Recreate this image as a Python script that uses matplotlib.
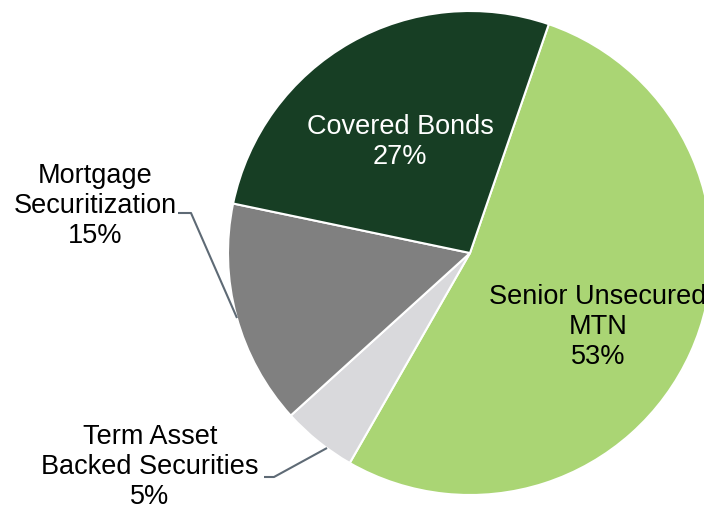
import matplotlib
matplotlib.use("Agg")
import matplotlib.pyplot as plt

plt.rcParams['font.family'] = ['Liberation Sans', 'DejaVu Sans']

categories = ["Senior Unsecured\nMTN", "Term Asset\nBacked Securities",
              "Mortgage\nSecuritization", "Covered Bonds"]
shares = [53, 5, 15, 27]
colors = ["#AAD574", "#D9D9DC", "#808080", "#173E24"]

W, H = 704, 508
fig = plt.figure(figsize=(W / 100, H / 100), dpi=100)
ax = fig.add_axes([0, 0, 1, 1])


def px(x, y):
    """Convert image-style coordinates (origin top-left) to axes data."""
    return x, H - y


center = px(470, 253)
radius = 242

wedges, _ = ax.pie(shares, colors=colors, startangle=71, counterclock=False,
                   center=center, radius=radius, frame=True,
                   wedgeprops=dict(edgecolor="white", linewidth=1.5))
ax.set_xlim(0, W)
ax.set_ylim(0, H)
ax.set_aspect('equal')
ax.axis('off')

fs = 19.5
ls = 1.2
lead = "#5E6A75"

# Labels inside the slices
ax.text(*px(400, 142), f"{categories[3]}\n{shares[3]}%", color="white",
        fontsize=fs, ha="center", va="center", linespacing=ls)
ax.text(*px(598, 327), f"{categories[0]}\n{shares[0]}%", color="black",
        fontsize=fs, ha="center", va="center", linespacing=ls)

# Labels outside the slices with leader lines
ax.text(*px(95, 206), f"{categories[2]}\n{shares[2]}%", color="black",
        fontsize=fs, ha="center", va="center", linespacing=ls)
lx, ly = zip(px(178, 213), px(191, 213), px(237, 318))
ax.plot(lx, ly, color=lead, linewidth=1.5, solid_capstyle="butt")

ax.text(*px(150, 467), f"{categories[1]}\n{shares[1]}%", color="black",
        fontsize=fs, ha="center", va="center", linespacing=ls)
lx, ly = zip(px(264, 477), px(274, 477), px(327, 448))
ax.plot(lx, ly, color=lead, linewidth=1.5, solid_capstyle="butt")

fig.savefig("out.png", dpi=100)
